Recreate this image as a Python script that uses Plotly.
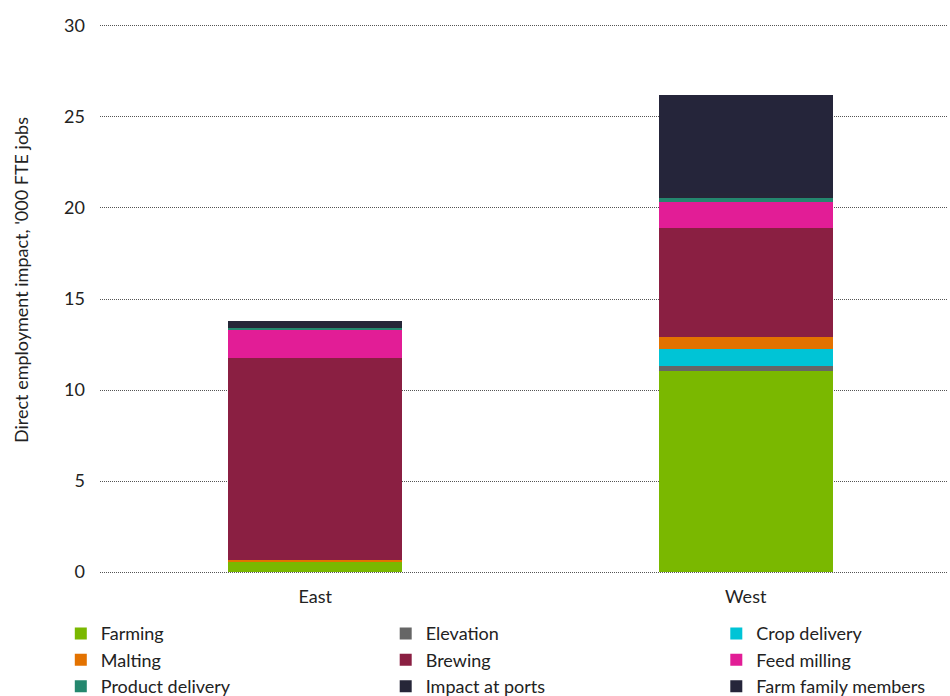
import plotly.graph_objects as go

regions = ["East", "West"]

farming = [0.60, 11.04]
elevation = [0.00, 0.30]
crop_delivery = [0.00, 0.92]
malting = [0.07, 0.66]
brewing = [11.10, 5.96]
feed_milling = [1.58, 1.46]
product_delivery = [0.05, 0.22]
impact_at_ports = [0.39, 0.25]
farm_family = [0.00, 5.41]

y_title = "Direct employment impact, '000 FTE jobs"

# (name, values, colour, legend column)
series = [
    ("Farming", farming, "#7AB800", "legend"),
    ("Elevation", elevation, "#666666", "legend2"),
    ("Crop delivery", crop_delivery, "#00C4D6", "legend3"),
    ("Malting", malting, "#E37200", "legend"),
    ("Brewing", brewing, "#8A1F42", "legend2"),
    ("Feed milling", feed_milling, "#E21D96", "legend3"),
    ("Product delivery", product_delivery, "#24876E", "legend"),
    ("Impact at ports", impact_at_ports, "#262638", "legend2"),
    ("Farm family members", farm_family, "#25253A", "legend3"),
]

fig = go.Figure()
for name, vals, color, leg in series:
    fig.add_trace(go.Bar(
        x=regions, y=vals, name=name,
        marker=dict(color=color, line=dict(width=0)),
        width=0.405, legend=leg,
    ))

legend_font = dict(size=18, color="#222222")


def column_legend(x):
    return dict(
        orientation="v", traceorder="normal",
        xref="container", yref="container",
        x=x, y=0.116, xanchor="left", yanchor="top",
        font=legend_font, itemwidth=30, tracegroupgap=0,
        bgcolor="rgba(0,0,0,0)",
    )


fig.update_layout(
    barmode="stack",
    width=950, height=696,
    margin=dict(l=100, r=2, t=24, b=122, autoexpand=False),
    plot_bgcolor="white", paper_bgcolor="white",
    font=dict(family="Lato, Open Sans, sans-serif", size=17, color="#222222"),
    showlegend=True,
    legend=column_legend(0.064),
    legend2=column_legend(0.406),
    legend3=column_legend(0.754),
    yaxis=dict(
        range=[-0.1, 30.1], tickvals=[0, 5, 10, 15, 20, 25, 30],
        showgrid=True, gridcolor="#555555", griddash="1px,1px", gridwidth=1,
        zeroline=False, showline=False, ticks="",
        ticklabelstandoff=14,
        tickfont=dict(size=18),
    ),
    xaxis=dict(
        range=[-0.5, 1.47],
        showline=False, ticks="", showgrid=False,
        ticklabelstandoff=10,
        tickfont=dict(size=18),
    ),
    annotations=[dict(
        text=y_title, textangle=-90,
        xref="paper", yref="paper", x=-0.094, y=0.535,
        xanchor="center", yanchor="middle", showarrow=False,
        font=dict(size=18, color="#222222"),
    )],
)

fig.write_html("out.html")
